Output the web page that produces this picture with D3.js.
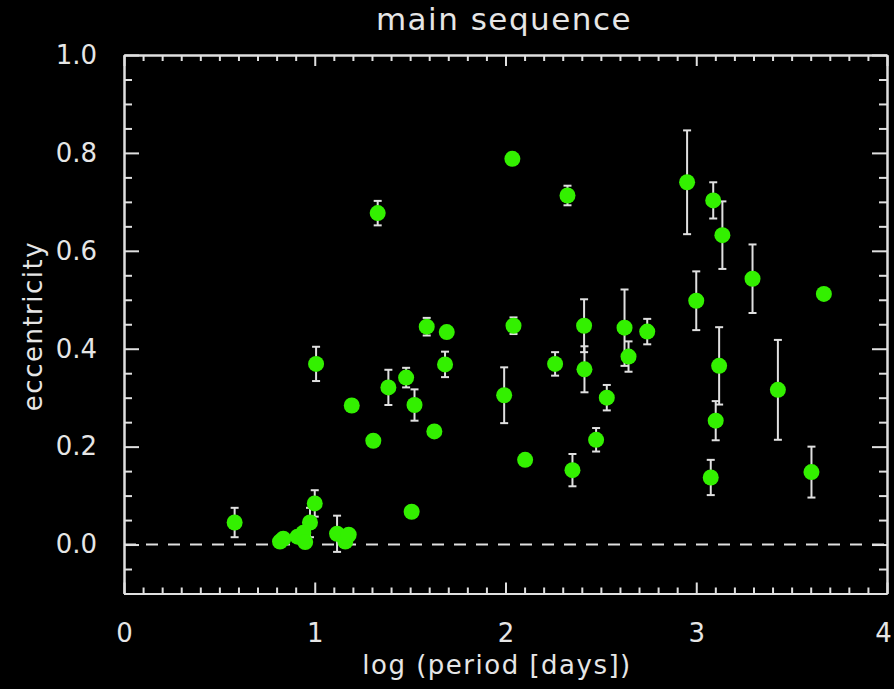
<!DOCTYPE html>
<html>
<head>
<meta charset="utf-8">
<script src="https://cdn.jsdelivr.net/npm/d3@7"></script>
<style>
  html, body { margin: 0; padding: 0; background: #000; }
  svg { display: block; }
  text { font-family: "DejaVu Sans", sans-serif; fill: #e6e6e6; }
</style>
</head>
<body>
<svg id="chart" width="894" height="689"></svg>
<script>
// log period (days) of each binary
const logPeriod = [0.58, 0.818, 0.835, 0.91, 0.94, 0.95, 0.975, 1.0, 1.007, 1.117,
  1.16, 1.178, 1.194, 1.307, 1.33, 1.386, 1.479, 1.508, 1.523, 1.587,
  1.627, 1.683, 1.692, 1.993, 2.036, 2.042, 2.103, 2.26, 2.325, 2.351,
  2.412, 2.414, 2.475, 2.531, 2.624, 2.645, 2.743, 2.952, 3.0, 3.076,
  3.089, 3.102, 3.12, 3.137, 3.295, 3.428, 3.604, 3.669];
// eccentricity
const ecc = [0.045, 0.006, 0.012, 0.016, 0.024, 0.005, 0.045, 0.084, 0.369, 0.022,
  0.006, 0.020, 0.284, 0.212, 0.677, 0.321, 0.341, 0.067, 0.285, 0.445,
  0.231, 0.368, 0.434, 0.305, 0.788, 0.447, 0.173, 0.369, 0.713, 0.152,
  0.447, 0.358, 0.214, 0.300, 0.443, 0.384, 0.435, 0.740, 0.498, 0.137,
  0.703, 0.253, 0.365, 0.632, 0.543, 0.316, 0.148, 0.512];
// 1-sigma error on eccentricity (0 = no bar drawn)
const eccErr = [0.03, 0, 0, 0, 0, 0, 0.03, 0.027, 0.035, 0.037,
  0, 0, 0, 0.01, 0.025, 0.036, 0.02, 0, 0.032, 0.018,
  0, 0.026, 0, 0.057, 0, 0.017, 0, 0.024, 0.02, 0.033,
  0.054, 0.047, 0.024, 0.026, 0.078, 0.031, 0.026, 0.106, 0.06, 0.036,
  0.037, 0.04, 0.079, 0.069, 0.07, 0.102, 0.052, 0.008];

const xMajor = [0, 1, 2, 3, 4];
const yMajor = [0.0, 0.2, 0.4, 0.6, 0.8, 1.0];

const data = logPeriod.map((p, i) => ({ p: p, e: ecc[i], err: eccErr[i] }));

const svg = d3.select("#chart");
const fg = "#e0e0e0";

const x = d3.scaleLinear().domain([0, 4]).range([124, 887]);
const y = d3.scaleLinear().domain([-0.1, 1.0]).range([593.5, 55]);

const xMinor = d3.range(0, 4.001, 0.1).map(v => +v.toFixed(2)).filter(v => !xMajor.includes(v));
const yMinor = d3.range(-0.1, 1.001, 0.05).map(v => +v.toFixed(2)).filter(v => !yMajor.includes(v));

function styleAxis(g) {
  g.select(".domain").attr("stroke", fg).attr("stroke-width", 2);
  g.selectAll(".tick line").attr("stroke", fg).attr("stroke-width", 2);
  g.selectAll(".tick text").style("font-size", "26px").attr("fill", "#e6e6e6");
}

// bottom
svg.append("g").attr("transform", "translate(0,593.5)")
  .call(d3.axisBottom(x).tickValues(xMajor).tickSizeInner(-11).tickSizeOuter(0)
    .tickPadding(30).tickFormat(d3.format("d")))
  .call(styleAxis)
  .selectAll(".tick text").attr("dx", d => d === 4 ? -4 : 0);
svg.append("g").attr("transform", "translate(0,593.5)")
  .call(d3.axisBottom(x).tickValues(xMinor).tickSizeInner(-6).tickSizeOuter(0).tickFormat(""))
  .call(styleAxis);
// top
svg.append("g").attr("transform", "translate(0,55)")
  .call(d3.axisTop(x).tickValues(xMajor).tickSizeInner(-11).tickSizeOuter(0).tickFormat(""))
  .call(styleAxis);
svg.append("g").attr("transform", "translate(0,55)")
  .call(d3.axisTop(x).tickValues(xMinor).tickSizeInner(-6).tickSizeOuter(0).tickFormat(""))
  .call(styleAxis);
// left
svg.append("g").attr("transform", "translate(124,0)")
  .call(d3.axisLeft(y).tickValues(yMajor).tickSizeInner(-15).tickSizeOuter(0)
    .tickPadding(27).tickFormat(d3.format(".1f")))
  .call(styleAxis);
svg.append("g").attr("transform", "translate(124,0)")
  .call(d3.axisLeft(y).tickValues(yMinor).tickSizeInner(-8).tickSizeOuter(0).tickFormat(""))
  .call(styleAxis);
// right
svg.append("g").attr("transform", "translate(887,0)")
  .call(d3.axisRight(y).tickValues(yMajor).tickSizeInner(-15).tickSizeOuter(0).tickFormat(""))
  .call(styleAxis);
svg.append("g").attr("transform", "translate(887,0)")
  .call(d3.axisRight(y).tickValues(yMinor).tickSizeInner(-8).tickSizeOuter(0).tickFormat(""))
  .call(styleAxis);

// zero line
svg.append("line")
  .attr("x1", x(0)).attr("x2", x(4))
  .attr("y1", y(0)).attr("y2", y(0))
  .attr("stroke", fg).attr("stroke-width", 2)
  .attr("stroke-dasharray", "12,10");

// error bars
const withErr = data.filter(d => d.err > 0);
const eb = svg.append("g").attr("stroke", fg).attr("stroke-width", 2);
eb.selectAll(".v").data(withErr).join("line")
  .attr("x1", d => x(d.p)).attr("x2", d => x(d.p))
  .attr("y1", d => y(d.e - d.err)).attr("y2", d => y(d.e + d.err));
eb.selectAll(".ct").data(withErr).join("line")
  .attr("x1", d => x(d.p) - 4).attr("x2", d => x(d.p) + 4)
  .attr("y1", d => y(d.e + d.err)).attr("y2", d => y(d.e + d.err));
eb.selectAll(".cb").data(withErr).join("line")
  .attr("x1", d => x(d.p) - 4).attr("x2", d => x(d.p) + 4)
  .attr("y1", d => y(d.e - d.err)).attr("y2", d => y(d.e - d.err));

// points
svg.append("g").selectAll("circle").data(data).join("circle")
  .attr("cx", d => x(d.p)).attr("cy", d => y(d.e))
  .attr("r", 8).attr("fill", "#33f000");

// titles
svg.append("text").attr("x", 504).attr("y", 30).attr("text-anchor", "middle")
  .style("font-size", "31px").style("letter-spacing", "1.5px").text("main sequence");
svg.append("text").attr("x", 497).attr("y", 674).attr("text-anchor", "middle")
  .style("font-size", "26px").style("letter-spacing", "1.5px").text("log (period [days])");
svg.append("text").attr("transform", "translate(42,326) rotate(-90)").attr("text-anchor", "middle")
  .style("font-size", "26px").style("letter-spacing", "1.5px").text("eccentricity");
</script>
</body>
</html>
